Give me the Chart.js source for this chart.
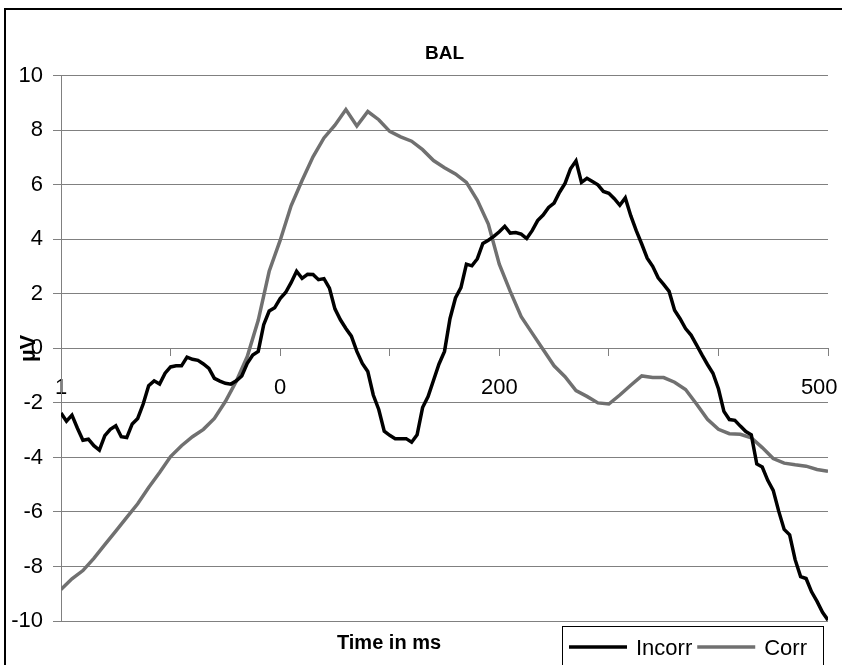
<!DOCTYPE html>
<html>
<head>
<meta charset="utf-8">
<title>BAL</title>
<script src="https://cdn.jsdelivr.net/npm/chart.js@4.4.1/dist/chart.umd.min.js"></script>
<style>
  html, body { margin: 0; padding: 0; background: #fff; }
</style>
</head>
<body>
<canvas id="bal-chart" width="842" height="665"></canvas>
<script>
// sample positions along the time axis (7 tick intervals of 100)
const incorrTimes = [
  0, 5, 10, 15, 20, 25, 30, 35, 40, 45, 50, 55, 60, 65, 70, 75, 80, 85, 90, 95,
  100, 105, 110, 115, 120, 125, 130, 135, 140, 145, 150, 155, 160, 165, 170, 175, 180, 185, 190, 195,
  200, 205, 210, 215, 220, 225, 230, 235, 240, 245, 250, 255, 260, 265, 270, 275, 280, 285, 290, 295,
  300, 305, 310, 315, 320, 325, 330, 335, 340, 345, 350, 355, 360, 365, 370, 375, 380, 385, 390, 395,
  400, 405, 410, 415, 420, 425, 430, 435, 440, 445, 450, 455, 460, 465, 470, 475, 480, 485, 490, 495,
  500, 505, 510, 515, 520, 525, 530, 535, 540, 545, 550, 555, 560, 565, 570, 575, 580, 585, 590, 595,
  600, 605, 610, 615, 620, 625, 630, 635, 640, 645, 650, 655, 660, 665, 670, 675, 680, 685, 690, 695,
  700
];

const corrTimes = [
  0, 10, 20, 30, 40, 50, 60, 70, 80, 90,
  100, 110, 120, 130, 140, 150, 160, 170, 180, 190,
  200, 210, 220, 230, 240, 250, 260, 270, 280, 290,
  300, 310, 320, 330, 340, 350, 360, 370, 380, 390,
  400, 410, 420, 430, 440, 450, 460, 470, 480, 490,
  500, 510, 520, 530, 540, 550, 560, 570, 580, 590,
  600, 610, 620, 630, 640, 650, 660, 670, 680, 690,
  700
];

// µV values
const incorr = [
  -2.37, -2.67, -2.45, -2.93, -3.37, -3.33, -3.57, -3.73, -3.2, -2.97,
  -2.84, -3.24, -3.27, -2.77, -2.57, -2.04, -1.37, -1.19, -1.31, -0.91,
  -0.68, -0.64, -0.64, -0.32, -0.4, -0.44, -0.57, -0.73, -1.1, -1.2,
  -1.28, -1.31, -1.19, -1.01, -0.55, -0.24, -0.11, 0.87, 1.37, 1.49,
  1.83, 2.05, 2.41, 2.83, 2.57, 2.72, 2.71, 2.52, 2.56, 2.21,
  1.45, 1.05, 0.73, 0.45, -0.11, -0.55, -0.85, -1.71, -2.24, -3.04,
  -3.19, -3.31, -3.31, -3.31, -3.44, -3.17, -2.17, -1.77, -1.17, -0.57,
  -0.11, 1.09, 1.85, 2.23, 3.09, 3.03, 3.29, 3.85, 3.97, 4.11,
  4.28, 4.48, 4.23, 4.25, 4.19, 4.03, 4.32, 4.69, 4.89, 5.17,
  5.33, 5.73, 6.05, 6.59, 6.88, 6.09, 6.24, 6.12, 6.0, 5.76,
  5.69, 5.49, 5.25, 5.52, 4.87, 4.32, 3.83, 3.31, 3.01, 2.59,
  2.35, 2.09, 1.4, 1.09, 0.73, 0.49, 0.13, -0.24, -0.59, -0.91,
  -1.48, -2.31, -2.61, -2.64, -2.85, -3.05, -3.17, -4.24, -4.35, -4.84,
  -5.21, -5.97, -6.64, -6.84, -7.75, -8.37, -8.44, -8.93, -9.28, -9.68,
  -9.97
];

const corr = [
  -8.84, -8.45, -8.15, -7.7, -7.2, -6.7, -6.2, -5.7, -5.1, -4.55,
  -3.97, -3.57, -3.24, -2.97, -2.57, -1.95, -1.2, -0.3, 1.03, 2.83,
  3.96, 5.23, 6.16, 7.03, 7.72, 8.19, 8.76, 8.16, 8.69, 8.39,
  7.96, 7.76, 7.6, 7.29, 6.89, 6.63, 6.4, 6.09, 5.43, 4.56,
  3.09, 2.09, 1.16, 0.56, -0.04, -0.64, -1.04, -1.55, -1.76, -2.0,
  -2.04, -1.71, -1.35, -1.01, -1.07, -1.07, -1.24, -1.51, -2.04, -2.6,
  -2.97, -3.13, -3.15, -3.28, -3.64, -4.04, -4.21, -4.27, -4.32, -4.44,
  -4.51
];

// tick marks on the zero line, and the few labels Excel printed
const xTickMarks = [0, 100, 200, 300, 400, 500, 600, 700];
const xTickLabels = ["1", "0", "200", "500"];
const xLabelValues = [0, 200, 400, 692];

const FONT = '"Liberation Sans", Arial, sans-serif';
Chart.defaults.font.family = FONT;
Chart.defaults.color = "#000";

// outer frame, x axis title and boxed legend
const frameAndLegend = {
  id: "frameAndLegend",
  afterDraw(chart) {
    const { ctx, chartArea } = chart;
    ctx.save();

    ctx.strokeStyle = "#000";
    ctx.lineWidth = 2;
    ctx.beginPath();
    ctx.moveTo(5, chart.height + 5);
    ctx.lineTo(5, 9);
    ctx.lineTo(chart.width + 5, 9);
    ctx.stroke();

    ctx.fillStyle = "#000";
    ctx.font = "bold 20px " + FONT;
    ctx.textAlign = "center";
    ctx.textBaseline = "alphabetic";
    ctx.fillText("Time in ms", 389, chartArea.bottom + 28);

    ctx.lineWidth = 1;
    ctx.strokeRect(562.5, 626.5, 261, 60);
    ctx.font = "22px " + FONT;
    ctx.textAlign = "left";
    let x = 569;
    const ly = 647;
    chart.data.datasets.forEach((ds) => {
      ctx.strokeStyle = ds.borderColor;
      ctx.lineWidth = ds.borderWidth;
      ctx.beginPath();
      ctx.moveTo(x, ly);
      ctx.lineTo(x + 58, ly);
      ctx.stroke();
      ctx.fillText(ds.label, x + 67, ly + 8);
      x += 67 + ctx.measureText(ds.label).width + 5;
    });

    ctx.restore();
  },
};

new Chart(document.getElementById("bal-chart").getContext("2d"), {
  type: "line",
  data: {
    datasets: [
      {
        label: "Incorr",
        data: incorrTimes.map((t, i) => ({ x: t, y: incorr[i] })),
        borderColor: "#000",
        borderWidth: 3.5,
      },
      {
        label: "Corr",
        data: corrTimes.map((t, i) => ({ x: t, y: corr[i] })),
        borderColor: "#707070",
        borderWidth: 3.5,
      },
    ],
  },
  options: {
    responsive: false,
    animation: false,
    devicePixelRatio: 1,
    layout: { padding: { top: 42, right: 14, bottom: 44, left: 0 } },
    elements: { point: { radius: 0 }, line: { tension: 0 } },
    plugins: {
      legend: { display: false },
      tooltip: { enabled: false },
      title: {
        display: true,
        text: "BAL",
        fullSize: false,
        color: "#000",
        font: { size: 19, weight: "bold" },
        padding: { top: 0, bottom: 11 },
      },
    },
    scales: {
      x: {
        type: "linear",
        position: { y: 0 },
        min: 0,
        max: 700,
        afterBuildTicks: (scale) => {
          scale.ticks = xTickMarks.map((v) => ({ value: v }));
        },
        ticks: { display: false },
        grid: { drawOnChartArea: false, tickLength: 7, color: "#808080" },
        border: { color: "#808080" },
      },
      xLabels: {
        axis: "x",
        type: "linear",
        position: { y: 0 },
        min: 0,
        max: 700,
        afterBuildTicks: (scale) => {
          scale.ticks = xLabelValues.map((v) => ({ value: v }));
        },
        ticks: {
          autoSkip: false,
          maxRotation: 0,
          padding: 2,
          font: { size: 22 },
          callback: (v, i) => xTickLabels[i],
        },
        // invisible tick marks only push the labels below the zero line
        grid: { drawOnChartArea: false, tickLength: 24, color: "rgba(0,0,0,0)" },
        border: { display: false },
      },
      y: {
        min: -10,
        max: 10,
        afterFit: (scale) => {
          scale.width = 61;
        },
        ticks: { stepSize: 2, padding: 10, font: { size: 22 } },
        grid: { color: "#808080", tickLength: 8 },
        border: { color: "#808080" },
        title: {
          display: true,
          text: "µV",
          font: { size: 22, weight: "bold" },
          padding: { top: 16, bottom: 0 },
        },
      },
    },
  },
  plugins: [frameAndLegend],
});
</script>
</body>
</html>
